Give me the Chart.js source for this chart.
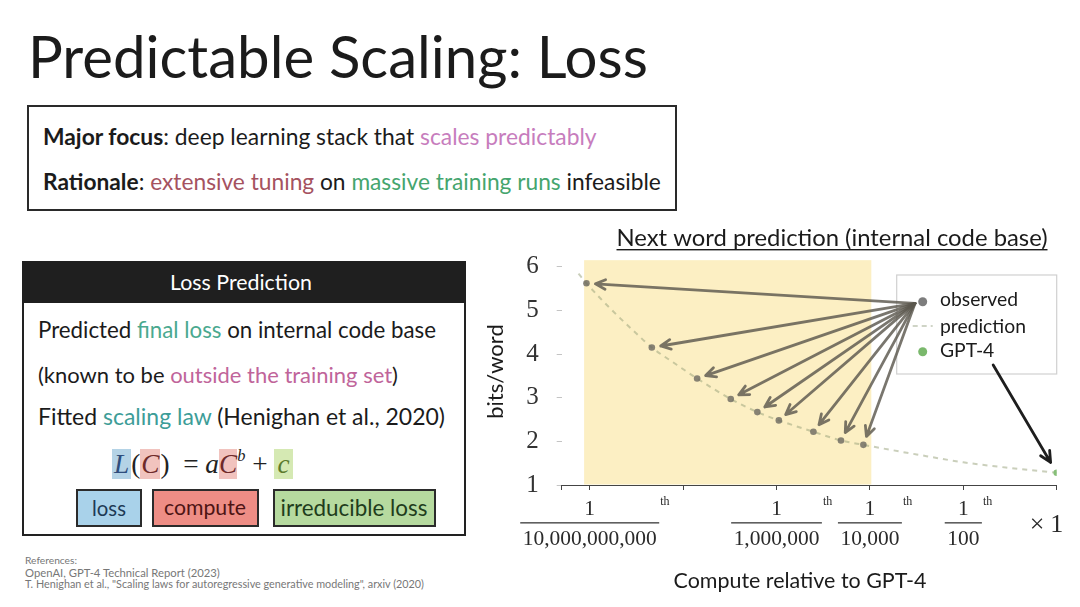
<!DOCTYPE html>
<html><head><meta charset="utf-8">
<script src="https://cdn.jsdelivr.net/npm/chart.js@4.4.1/dist/chart.umd.min.js"></script>
<style>
html,body{margin:0;padding:0;background:#fff}
body{width:1080px;height:607px;position:relative;overflow:hidden;font-family:Lato,'Open Sans',sans-serif;color:#1b1b1b}
.t{position:absolute;white-space:nowrap;line-height:1.2;font-size:20px}
.box{position:absolute;box-sizing:border-box}
.lb{border:2.5px solid #2b2b2b;display:flex;align-items:center;justify-content:center;font-size:21px}
.lb span{white-space:nowrap;line-height:1.2}
b{font-weight:700}
.hi{font-style:italic}
</style></head><body>
<div class="t" data-x="28" data-cy="56" data-w="620" style="font-size:58px">Predictable Scaling: Loss</div>

<div class="box" style="left:27px;top:105px;width:650px;height:106px;border:2.5px solid #2a2a2a"></div>
<div class="t" data-x="43" data-cy="136.5" data-w="554" style="font-size:21px"><b>Major focus</b>: deep learning stack that <span style="color:#c77dbd">scales predictably</span></div>
<div class="t" data-x="43" data-cy="181.5" data-w="618" style="font-size:21px"><b>Rationale</b>: <span style="color:#a5525f">extensive tuning</span> on <span style="color:#45a56e">massive training runs</span> infeasible</div>

<div class="box" style="left:22px;top:261px;width:444px;height:275px;border:2.5px solid #222"></div>
<div class="box" style="left:22px;top:261px;width:444px;height:42px;background:#1f1f1f"></div>
<div class="t" data-cx="241" data-cy="283" data-w="142" style="color:#fff">Loss Prediction</div>
<div class="t" data-x="38" data-cy="330" data-w="398">Predicted <span style="color:#4aa98f">final loss</span> on internal code base</div>
<div class="t" data-x="38" data-cy="375" data-w="360">(known to be <span style="color:#c0649a">outside the training set</span>)</div>
<div class="t" data-x="38" data-cy="416.5" data-w="407">Fitted <span style="color:#3d9d98">scaling law</span> (Henighan et al., 2020)</div>

<div class="t" data-x="112" data-cy="464" data-w="185" style="font-family:'Liberation Serif',serif;font-size:29px;line-height:1.1;color:#222"><span class="hi" style="background:#b4d3e6;color:#2e4d7c;padding:0 2px">L</span>(<span class="hi" style="background:#f1c3be;color:#6e2a2a;padding:0 1px">C</span>)&nbsp;&nbsp;= <i>a</i><span class="hi" style="background:#f1c3be;color:#6e2a2a">C</span><span class="hi" style="font-size:60%;position:relative;top:-0.75em">b</span> + <span class="hi" style="background:#d5e9b3;color:#5c7a2c;padding:0 3px">c</span></div>

<div class="box lb" style="left:76px;top:489px;width:66px;height:38px;background:#a9d2ea;color:#1d3a55"><span data-w="34">loss</span></div>
<div class="box lb" style="left:151.5px;top:489px;width:107px;height:38px;background:#ee8d85;color:#4d1414"><span data-w="82">compute</span></div>
<div class="box lb" style="left:272.5px;top:489px;width:163px;height:38px;background:#b6da9f;color:#1f3d1c"><span data-w="147">irreducible loss</span></div>

<div class="t" data-x="25" data-cy="560.5" data-w="52" style="font-size:10px;color:#777">References:</div>
<div class="t" data-x="25" data-cy="572.5" data-w="195" style="font-size:10px;color:#777">OpenAI, GPT-4 Technical Report (2023)</div>
<div class="t" data-x="25" data-cy="584" data-w="399" style="font-size:10px;color:#777">T. Henighan et al., "Scaling laws for autoregressive generative modeling", arxiv (2020)</div>

<div style="position:absolute;left:480px;top:220px;width:600px;height:387px"><canvas id="c" width="600" height="387"></canvas></div>

<script>
// ---- data (x = log10 of compute relative to GPT-4, y = bits/word) ----
const observedCompute = [-10.07, -8.67, -7.70, -6.98, -6.41, -5.95, -5.21, -4.62, -4.14];
const observedLoss    = [5.62, 4.15, 3.44, 2.97, 2.67, 2.48, 2.22, 2.02, 1.92];
const predictionCompute = [-10.24, -10.07, -9.5, -9.0, -8.67, -8.2, -7.70, -6.98, -6.41, -5.95, -5.21, -4.62, -4.14, -3, -2, -1, 0];
const predictionLoss    = [5.84, 5.62, 4.98, 4.47, 4.15, 3.80, 3.44, 2.97, 2.67, 2.48, 2.22, 2.02, 1.92, 1.70, 1.52, 1.39, 1.28];
const gpt4Compute = [0];
const gpt4Loss = [1.28];
const highlightRange = [-10.12, -3.97];   // shaded region (compute)
const highlightTop = 6.15;
const arrowOrigin = [-3.035, 5.16];        // where observed arrows start
const gpt4ArrowStart = [-1.36, 3.75];
const yTickValues = [1, 2, 3, 4, 5, 6];
const yTickLabels = ['1', '2', '3', '4', '5', '6'];
const xTickValues = [-10.6, -10, -8, -6, -4, -2, 0];
const xTickNumerators   = ['', '1', '', '1', '1', '1', ''];
const xTickDenominators = ['', '10,000,000,000', '', '1,000,000', '10,000', '100', ''];
const xTickSuffix       = ['', 'th', '', 'th', 'th', 'th', ''];
const xEndLabel = '×1';
const chartTitle = 'Next word prediction (internal code base)';
const xTitle = 'Compute relative to GPT-4';
const yTitle = 'bits/word';
const legendLabels = ['observed', 'prediction', 'GPT-4'];

// ---- HTML text fitting ----
function fitAll(){
  document.querySelectorAll('[data-w]').forEach(el=>{
    el.style.fontSize='';
    const fs=parseFloat(getComputedStyle(el).fontSize);
    const w=el.getBoundingClientRect().width;
    el.style.fontSize=(fs*(+el.dataset.w)/w).toFixed(2)+'px';
  });
  document.querySelectorAll('.t').forEach(el=>{
    const r=el.getBoundingClientRect();
    if(el.dataset.x) el.style.left=el.dataset.x+'px';
    if(el.dataset.cx) el.style.left=(+el.dataset.cx - r.width/2)+'px';
    if(el.dataset.cy) el.style.top=(+el.dataset.cy - r.height/2)+'px';
  });
}
fitAll();

function fitSize(ctx, text, spec, family, target){
  ctx.font = spec+' 20px '+family;
  return 20*target/ctx.measureText(text).width;
}
function arrow(ctx,x0,y0,x1,y1,shorten,head,color,width){
  const a=Math.atan2(y1-y0,x1-x0);
  const ex=x1-shorten*Math.cos(a), ey=y1-shorten*Math.sin(a);
  ctx.strokeStyle=color; ctx.lineWidth=width; ctx.lineCap='round'; ctx.lineJoin='round';
  ctx.beginPath(); ctx.moveTo(x0,y0); ctx.lineTo(ex,ey);
  ctx.moveTo(ex-head*Math.cos(a-0.45), ey-head*Math.sin(a-0.45));
  ctx.lineTo(ex,ey);
  ctx.lineTo(ex-head*Math.cos(a+0.45), ey-head*Math.sin(a+0.45));
  ctx.stroke();
}

const overlay = {
  id:'overlay',
  beforeDraw(chart){
    const {ctx, chartArea:a, scales:{x,y}} = chart;
    const x0=x.getPixelForValue(highlightRange[0]), x1=x.getPixelForValue(highlightRange[1]);
    const yT=y.getPixelForValue(highlightTop);
    ctx.save(); ctx.fillStyle='#fcefc3'; ctx.fillRect(x0,yT,x1-x0,a.bottom-yT-0.5); ctx.restore();
  },
  afterDatasetsDraw(chart){
    const {ctx, chartArea:a, scales:{x,y}} = chart;
    ctx.save();
    // legend
    const L=a.right-160, T=a.top+17;
    ctx.fillStyle='#fff'; ctx.fillRect(L,T,160,99);
    ctx.strokeStyle='#d0d0d0'; ctx.lineWidth=1.2; ctx.strokeRect(L,T,160,99);
    ctx.fillStyle='#7d7d7d'; ctx.beginPath(); ctx.arc(L+26,T+26.7,4.5,0,Math.PI*2); ctx.fill();
    ctx.strokeStyle='#cfd4c6'; ctx.lineWidth=2; ctx.setLineDash([5,4]);
    ctx.beginPath(); ctx.moveTo(L+16,T+51); ctx.lineTo(L+36,T+51); ctx.stroke(); ctx.setLineDash([]);
    ctx.fillStyle='#7ab86c'; ctx.beginPath(); ctx.arc(L+26,T+76.7,4.5,0,Math.PI*2); ctx.fill();
    const ls=fitSize(ctx,legendLabels[1],'400','Lato',86);
    ctx.font='400 '+ls.toFixed(2)+'px Lato'; ctx.fillStyle='#1b1b1b'; ctx.textAlign='left'; ctx.textBaseline='alphabetic';
    ctx.fillText(legendLabels[0],L+43.3,T+31);
    ctx.fillText(legendLabels[1],L+43.3,T+57.7);
    ctx.fillText(legendLabels[2],L+43.3,T+82.3);
    // arrows
    const ox=x.getPixelForValue(arrowOrigin[0]), oy=y.getPixelForValue(arrowOrigin[1]);
    observedCompute.forEach((c,i)=>{
      arrow(ctx,ox,oy,x.getPixelForValue(c),y.getPixelForValue(observedLoss[i]),9,11,'rgba(92,88,78,0.82)',2.8);
    });
    arrow(ctx,x.getPixelForValue(gpt4ArrowStart[0]),y.getPixelForValue(gpt4ArrowStart[1]),
          x.getPixelForValue(gpt4Compute[0]),y.getPixelForValue(gpt4Loss[0]),12,12,'#1e1e1e',2.8);
    ctx.restore();
  },
  afterDraw(chart){
    const {ctx, chartArea:a, scales:{x}} = chart;
    ctx.save();
    // chart title
    const ts=fitSize(ctx,chartTitle,'400','Lato',431);
    ctx.font='400 '+ts.toFixed(2)+'px Lato'; ctx.fillStyle='#1b1b1b'; ctx.textAlign='left'; ctx.textBaseline='alphabetic';
    ctx.fillText(chartTitle,136.5,26);
    ctx.fillRect(136.5,29,431,1.4);
    // fraction tick labels
    const ds=fitSize(ctx,'10,000,000,000','400',"'Liberation Serif'",134);
    const b=a.bottom;
    xTickValues.forEach((v,i)=>{
      if(!xTickDenominators[i]) return;
      const px=x.getPixelForValue(v);
      ctx.font='400 '+ds.toFixed(2)+"px 'Liberation Serif'"; ctx.fillStyle='#2a2a2a'; ctx.textAlign='center';
      ctx.fillText(xTickNumerators[i],px,b+29.5);
      ctx.fillText(xTickDenominators[i],px,b+60);
      const w=ctx.measureText(xTickDenominators[i]).width/2+2.5;
      ctx.fillStyle='#3a3a3a'; ctx.fillRect(px-w,b+37.2,2*w,1.3);
      ctx.font="400 12px 'Liberation Serif'"; ctx.textAlign='left'; ctx.fillStyle='#2a2a2a';
      ctx.fillText(xTickSuffix[i],px+w+1,b+19.5);
    });
    ctx.font="400 26px 'Liberation Serif'"; ctx.textAlign='right'; ctx.fillStyle='#2a2a2a';
    ctx.letterSpacing='6px';
    ctx.fillText(xEndLabel,x.getPixelForValue(0)+6.6+6,b+46.7);
    ctx.letterSpacing='0px';
    // x title
    const xs=fitSize(ctx,xTitle,'400','Lato',253);
    ctx.font='400 '+xs.toFixed(2)+'px Lato'; ctx.textAlign='center'; ctx.fillStyle='#1b1b1b';
    ctx.fillText(xTitle,320,b+103);
    ctx.restore();
  }
};

new Chart(document.getElementById('c'), {
  type:'scatter',
  data:{datasets:[
    {label:'prediction', type:'line', data:predictionCompute.map((v,i)=>({x:v,y:predictionLoss[i]})),
     borderColor:'rgba(150,160,120,0.5)', borderDash:[5,5], borderWidth:2, pointRadius:0,
     cubicInterpolationMode:'monotone', fill:false, order:3},
    {label:'observed', data:observedCompute.map((v,i)=>({x:v,y:observedLoss[i]})),
     backgroundColor:'rgba(105,103,95,0.8)', borderWidth:0, pointRadius:3.3, order:2},
    {label:'GPT-4', data:gpt4Compute.map((v,i)=>({x:v,y:gpt4Loss[i]})),
     backgroundColor:'#86bf78', borderWidth:0, pointRadius:3.3, order:1}
  ]},
  options:{
    responsive:false, animation:false, devicePixelRatio:1,
    layout:{padding:{left:0,right:23.3,top:38,bottom:0}},
    plugins:{legend:{display:false}, tooltip:{enabled:false}, title:{display:false}},
    scales:{
      x:{type:'linear', min:-10.6, max:0,
         afterBuildTicks:s=>{s.ticks=xTickValues.map(v=>({value:v}));},
         afterFit:s=>{s.height=122;},
         grid:{drawOnChartArea:false, drawTicks:true, tickLength:5, color:'#444', lineWidth:1},
         border:{display:true, color:'#444', width:1},
         ticks:{autoSkip:false, callback:()=>''}},
      y:{min:1, max:6.2,
         afterBuildTicks:s=>{s.ticks=yTickValues.map(v=>({value:v}));},
         afterFit:s=>{s.width=81.7;},
         grid:{drawOnChartArea:false, drawTicks:true, tickLength:5, color:'#c4c4c4'},
         border:{display:false},
         ticks:{autoSkip:false, padding:18, color:'#333', font:{family:'Liberation Serif', size:25},
                callback:v=>yTickLabels[yTickValues.indexOf(v)]},
         title:{display:true, text:yTitle, color:'#1b1b1b', font:{family:'Lato', size:22}, padding:{top:3,bottom:0}}}
    }
  },
  plugins:[overlay]
});
if(document.fonts && document.fonts.ready) document.fonts.ready.then(fitAll);
</script>
</body></html>
